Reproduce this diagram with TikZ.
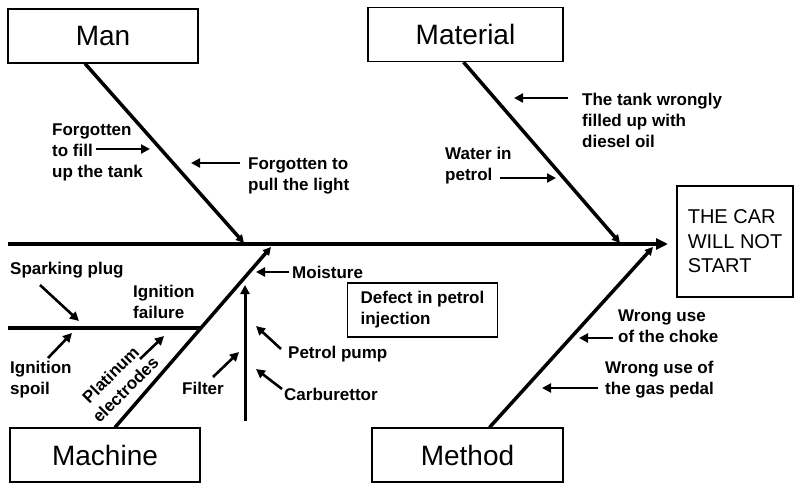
\documentclass[tikz,border=0pt]{standalone}
\usepackage{fontspec}
\setmainfont{Liberation Sans}
\usetikzlibrary{arrows.meta}
\tikzset{
    catbox/.style={draw, line width=1.2pt, minimum width=190pt, minimum height=54pt, inner sep=0pt,
                   font=\fontsize{28}{32}\selectfont},
    cause/.style={font=\bfseries\fontsize{17}{21}\selectfont, align=left, anchor=west, inner sep=0pt},
    bone/.style={line width=3.5pt, -{Triangle[length=8pt,width=8pt]}},
    pointer/.style={line width=2.6pt, -{Triangle[length=9pt,width=9pt]}},
}
\begin{document}
\begin{tikzpicture}[x=1pt,y=-1pt]
    \useasboundingbox (0,0) rectangle (795,483);
    % Category boxes
    \node[catbox] (man) at (103,36) {Man};
    \node[catbox, minimum width=195pt] (material) at (465.5,34.5) {Material};
    \node[catbox] (machine) at (105,455) {Machine};
    \node[catbox, minimum width=191pt] (method) at (467.5,455) {Method};
    \node[draw, line width=1.2pt, minimum width=116pt, minimum height=111pt, align=left,
          font=\fontsize{20}{24.5}\selectfont] (effect) at (735,241.5) {THE CAR\\WILL NOT\\START};
    % Spine and bones
    \coordinate (tail) at (8,244);
    \coordinate (head) at (668,244);
    \draw[line width=4pt, -{Triangle[length=12pt,width=11pt]}] (tail) -- (head);
    \coordinate (manend) at (244,243);
    \coordinate (matend) at (620,243);
    \coordinate (macend) at (271,247);
    \coordinate (metend) at (653,247);
    \draw[bone] ([xshift=-18]man.south) -- (manend);
    \draw[bone] ([xshift=-2]material.south) -- (matend);
    \draw[bone] ([xshift=10]machine.north) -- (macend);
    \draw[bone] ([xshift=22]method.north) -- (metend);
    % Sub-bone and vertical arrow
    \coordinate (subtail) at (8,328);
    \coordinate (subend) at (200,328);
    \draw[line width=3.2pt] (subtail) -- (subend);
    \coordinate (vtail) at (245,421);
    \coordinate (vhead) at (245,285);
    \draw[pointer, line width=3pt] (vtail) -- (vhead);
    % Causes
    \node[cause] (fill) at (52,152) {Forgotten\\to fill\\up the tank};
    \node[cause] (light) at (248,176) {Forgotten to\\pull the light};
    \node[cause] (diesel) at (582,120) {The tank wrongly\\filled up with\\diesel oil};
    \node[cause] (water) at (445,166) {Water in\\petrol};
    \node[cause] (plug) at (10,270) {Sparking plug};
    \node[cause] (failure) at (133,302) {Ignition\\failure};
    \node[cause] (spoil) at (10,380) {Ignition\\spoil};
    \node[cause, align=center, anchor=center, rotate=45] (platinum) at (118,382) {Platinum\\electrodes};
    \node[cause] (filter) at (182,388) {Filter};
    \node[cause] (moisture) at (292,272) {Moisture};
    \node[cause] (pump) at (288,354) {Petrol pump};
    \node[cause] (carb) at (284,394) {Carburettor};
    \node[cause, draw, line width=1.2pt, anchor=center, minimum width=150pt,
          minimum height=54pt] (defect) at (422.5,310) {Defect in petrol\\injection};
    \node[cause] (choke) at (618,326) {Wrong use\\of the choke};
    \node[cause] (pedal) at (605,380) {Wrong use of\\the gas pedal};
    % Arrow ends
    \foreach \n/\x/\y in {t1/96/149, h1/150/149, t2/240/163, h2/191/163,
                          t3/568/98, h3/514/98, t4/500/178, h4/556/178,
                          t5/40/285, h5/79/321, t7/48/358, h7/72/333,
                          t8/140/359, h8/164/336, t9/213/377, h9/239/352,
                          t10/289/272, h10/256/272, t11/281/349, h11/256/326,
                          t12/282/389, h12/256/369, t14/613/338, h14/579/338,
                          t15/598/388, h15/542/388}
        {\coordinate (\n) at (\x,\y);}
    \foreach \a/\b in {t1/h1, t2/h2, t3/h3, t4/h4, t5/h5, t7/h7, t8/h8,
                       t9/h9, t10/h10, t11/h11, t12/h12, t14/h14, t15/h15}
        {\draw[pointer] (\a) -- (\b);}
\end{tikzpicture}
\end{document}
